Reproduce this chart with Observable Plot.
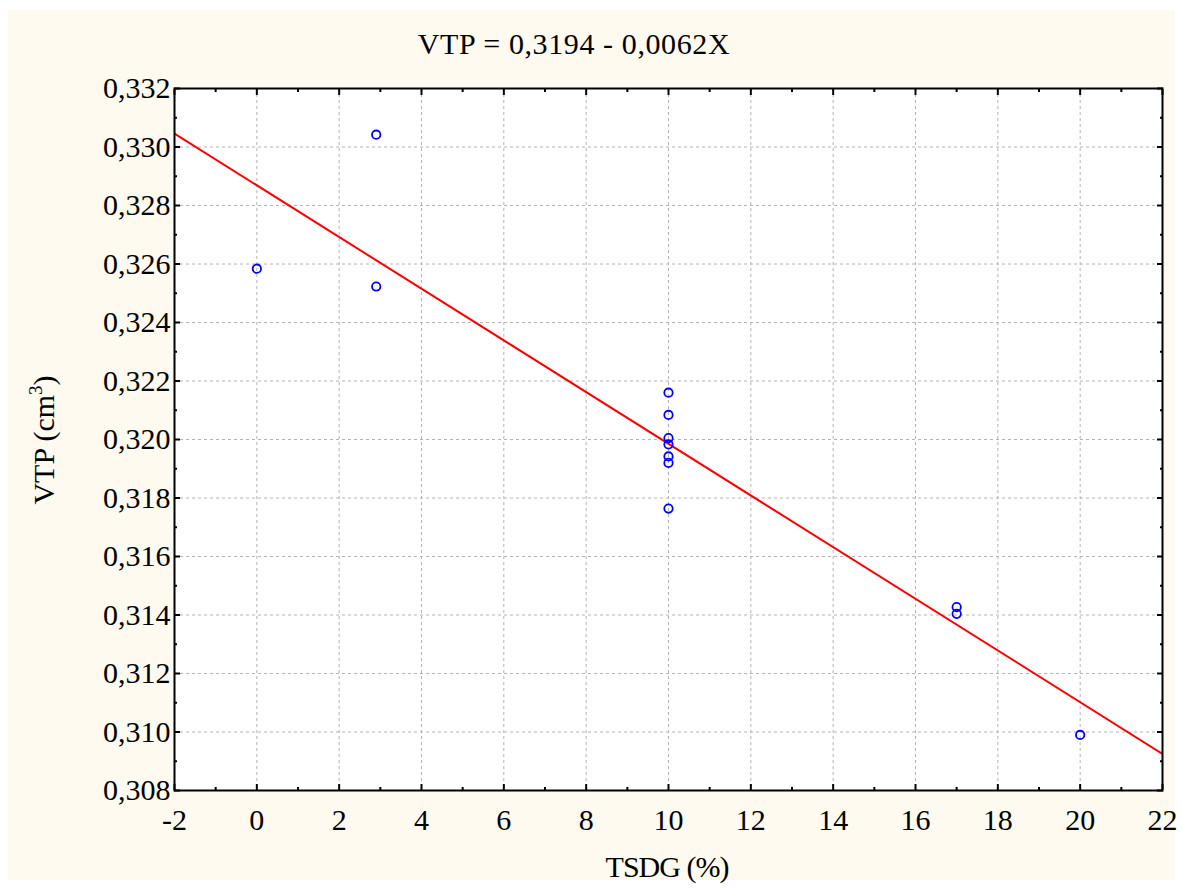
<!DOCTYPE html>
<html>
<head>
<meta charset="utf-8">
<script src="https://cdn.jsdelivr.net/npm/d3@7"></script>
<script src="https://cdn.jsdelivr.net/npm/@observablehq/plot@0.6"></script>
<style>
  html, body { margin: 0; padding: 0; background: #ffffff; }
  #wrap { position: relative; width: 1183px; height: 890px; overflow: hidden; }
  #bg { position: absolute; left: 8px; top: 10px; width: 1167px; height: 870px; background: #fefaf0; }
  #chart { position: absolute; left: 0; top: 0; }
  .txt { position: absolute; font-family: "Liberation Serif", "Times New Roman", serif; color: #000; white-space: nowrap; line-height: 1; }
  #title { left: 574px; top: 29px; transform: translateX(-50%); font-size: 30px; letter-spacing: 0.6px; }
  #xlabel { left: 667px; top: 852px; transform: translateX(-50%); font-size: 30px; letter-spacing: -1px; }
  #ylabel { left: 42px; top: 440px; transform: translate(-50%, -50%) rotate(-90deg); font-size: 30px; }
</style>
</head>
<body>
<div id="wrap">
  <div id="bg"></div>
  <div id="chart"></div>
  <div class="txt" id="title">VTP = 0,3194 - 0,0062X</div>
  <div class="txt" id="xlabel">TSDG (%)</div>
  <div class="txt" id="ylabel">VTP (cm<sup style="font-size:19px; vertical-align: 12px;">3</sup>)</div>
</div>
<script>
// Data
const tsdg = [0, 2.9, 2.9, 10, 10, 10, 10, 10, 10, 10, 17, 17, 20];
const vtp  = [0.32584, 0.33042, 0.32523, 0.32160, 0.32084, 0.32005, 0.31983, 0.31942, 0.31920, 0.31764, 0.31427, 0.31404, 0.30990];
const xTicks = [-2, 0, 2, 4, 6, 8, 10, 12, 14, 16, 18, 20, 22];
const xMinor = [-1, 1, 3, 5, 7, 9, 11, 13, 15, 17, 19, 21];
const yTicks = [0.308, 0.310, 0.312, 0.314, 0.316, 0.318, 0.320, 0.322, 0.324, 0.326, 0.328, 0.330, 0.332];
const yMinor = [0.309, 0.311, 0.313, 0.315, 0.317, 0.319, 0.321, 0.323, 0.325, 0.327, 0.329, 0.331];
const xDomain = [-2, 22];
const yDomain = [0.308, 0.332];

const points = tsdg.map((x, i) => ({x, y: vtp[i]}));

// least-squares fit, drawn across the full x domain
const mx = d3.mean(tsdg), my = d3.mean(vtp);
const sxy = d3.sum(points, d => (d.x - mx) * (d.y - my));
const sxx = d3.sum(points, d => (d.x - mx) ** 2);
const slope = sxy / sxx, intercept = my - slope * mx;
const fit = xDomain.map(x => ({x, y: intercept + slope * x}));

const fmtY = d => d.toFixed(3).replace(".", ",");
const fmtX = d => String(d);

const plot = Plot.plot({
  width: 1183,
  height: 890,
  marginLeft: 174,
  marginRight: 21,
  marginTop: 88,
  marginBottom: 100,
  style: { background: "transparent", fontFamily: "Liberation Serif, Times New Roman, serif", fontSize: "30px", color: "#000" },
  x: { domain: xDomain },
  y: { domain: yDomain },
  marks: [
    Plot.frame({ fill: "white", stroke: "none" }),
    Plot.gridX(xTicks, { stroke: "#b4b4b4", strokeOpacity: 1, strokeDasharray: "3,3", strokeWidth: 1 }),
    Plot.gridY(yTicks, { stroke: "#b4b4b4", strokeOpacity: 1, strokeDasharray: "3,3", strokeWidth: 1 }),
    Plot.line(fit, { x: "x", y: "y", stroke: "#ff0000", strokeWidth: 2, clip: true }),
    Plot.dot(points, { x: "x", y: "y", r: 4.2, stroke: "#0000ff", strokeWidth: 1.8, fill: "none" }),
    // inward ticks on all sides
    Plot.axisX(xTicks, { anchor: "bottom", tickSize: -6, strokeWidth: 2, text: null, label: null }),
    Plot.axisX(xMinor, { anchor: "bottom", tickSize: -3, strokeWidth: 2, text: null, label: null }),
    Plot.axisX(xTicks, { anchor: "top", tickSize: -6, strokeWidth: 2, text: null, label: null }),
    Plot.axisX(xMinor, { anchor: "top", tickSize: -3, strokeWidth: 2, text: null, label: null }),
    Plot.axisY(yTicks, { anchor: "left", tickSize: -6, strokeWidth: 2, text: null, label: null }),
    Plot.axisY(yMinor, { anchor: "left", tickSize: -3, strokeWidth: 2, text: null, label: null }),
    Plot.axisY(yTicks, { anchor: "right", tickSize: -6, strokeWidth: 2, text: null, label: null }),
    Plot.axisY(yMinor, { anchor: "right", tickSize: -3, strokeWidth: 2, text: null, label: null }),
    // tick labels
    Plot.axisX(xTicks, { anchor: "bottom", tickSize: 0, tickPadding: 18, tickFormat: fmtX, fontSize: 30, label: null }),
    Plot.axisY(yTicks, { anchor: "left", tickSize: 0, tickPadding: 4, tickFormat: fmtY, fontSize: 30, label: null }),
    Plot.frame({ stroke: "#000", strokeWidth: 2 })
  ]
});
document.getElementById("chart").appendChild(plot);
</script>
</body>
</html>
